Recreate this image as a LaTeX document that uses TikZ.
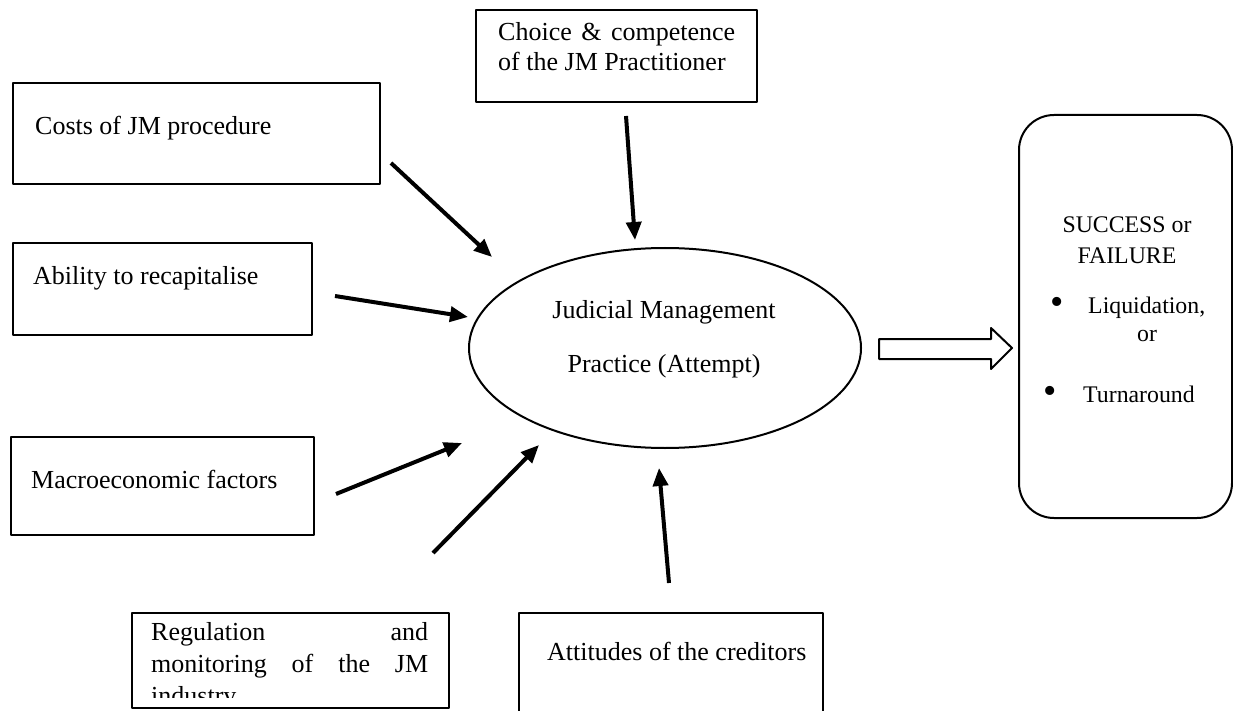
\documentclass[tikz,border=0pt]{standalone}
\usepackage{fontspec}
\setmainfont{Liberation Serif}
\usetikzlibrary{arrows.meta,shapes.geometric}
\begin{document}
\begin{tikzpicture}[x=1pt, y=-1pt, line join=round, font=\fontsize{26}{31}\selectfont,
		>={Triangle[length=18pt,width=15pt]},
		factbox/.style={draw, line width=2pt, anchor=north west, inner sep=0pt},
		facttext/.style={anchor=base west, inner sep=0pt},
		outtext/.style={inner sep=0pt, font=\fontsize{23.8}{28}\selectfont},
		bullet/.style={inner sep=0pt, font=\fontsize{38}{38}\selectfont},
		inarrow/.style={->, line width=4pt}]
		\clip (0,0) rectangle (1233,711);
		% factor boxes
		\node[factbox, minimum width=367pt, minimum height=101pt] (costs) at (12,82) {};
		\node[facttext] (costs-t) at (35,135) {Costs of JM procedure};
		\node[factbox, minimum width=281pt, minimum height=92pt] (choice) at (475,9) {};
		\node[facttext] (choice-l1) at (498,41) {\hbox to 237pt{Choice\hfill\&\hfill competence}};
		\node[facttext] (choice-l2) at (498,71) {of the JM Practitioner};
		\node[factbox, minimum width=299pt, minimum height=92pt] (ability) at (12,242) {};
		\node[facttext] (ability-t) at (33,284) {Ability to recapitalise};
		\node[factbox, minimum width=303pt, minimum height=98pt] (macro) at (10,436) {};
		\node[facttext] (macro-t) at (31,488) {Macroeconomic factors};
		\node[factbox, minimum width=317pt, minimum height=95pt] (reg) at (131,612) {};
		\begin{scope}
			\clip (131,612) rectangle (448,697);
			\node[facttext] (reg-l1) at (151,640) {\hbox to 277pt{Regulation\hfill and}};
			\node[facttext] (reg-l2) at (151,672) {\hbox to 277pt{monitoring\hfill of\hfill the\hfill JM}};
			\node[facttext] (reg-l3) at (151,704) {industry};
		\end{scope}
		\node[factbox, minimum width=304pt, minimum height=130pt] (att) at (518,612) {};
		\node[facttext] (att-t) at (547,660) {Attitudes of the creditors};
		% judicial management
		\node[draw, ellipse, line width=2pt, minimum width=392pt, minimum height=200pt, inner sep=0pt] (jm) at (665,348) {};
		\node[anchor=base, inner sep=0pt] (jm-l1) at (664,318) {Judicial Management};
		\node[anchor=base, inner sep=0pt] (jm-l2) at (664,372) {Practice (Attempt)};
		% outcome
		\node[draw, line width=2pt, rounded corners=35pt, anchor=north west, inner sep=0pt,
			minimum width=213pt, minimum height=403pt] (result) at (1018,114) {};
		\node[outtext, anchor=base] (res-l1) at (1127,233) {SUCCESS or};
		\node[outtext, anchor=base] (res-l2) at (1127,263) {FAILURE};
		\node[bullet] (bul1) at (1057,306) {\textbullet};
		\node[outtext, anchor=base west] (liq) at (1088,313) {Liquidation,};
		\node[outtext, anchor=base] (liq-or) at (1147,341) {or};
		\node[bullet] (bul2) at (1050,395) {\textbullet};
		\node[outtext, anchor=base west] (turn) at (1083,402) {Turnaround};
		% arrows
		\coordinate (costs-out) at (391,163);
		\coordinate (jm-in1) at (492,257);
		\coordinate (choice-out) at (626,116);
		\coordinate (jm-in2) at (635,240);
		\coordinate (ability-out) at (335,296);
		\coordinate (jm-in3) at (468,317);
		\coordinate (macro-out) at (336,494);
		\coordinate (jm-in4) at (462,443);
		\coordinate (reg-out) at (433,553);
		\coordinate (jm-in5) at (539,445);
		\coordinate (att-out) at (669,583);
		\coordinate (jm-in6) at (659,468);
		\draw[inarrow] (costs-out) -- (jm-in1);
		\draw[inarrow] (choice-out) -- (jm-in2);
		\draw[inarrow] (ability-out) -- (jm-in3);
		\draw[inarrow] (macro-out) -- (jm-in4);
		\draw[inarrow] (reg-out) -- (jm-in5);
		\draw[inarrow] (att-out) -- (jm-in6);
		\draw[line width=2pt] (879,339) -- (991,339) -- (991,328) -- (1012,348) -- (991,369) -- (991,359) -- (879,359) -- cycle;
	\end{tikzpicture}
\end{document}
